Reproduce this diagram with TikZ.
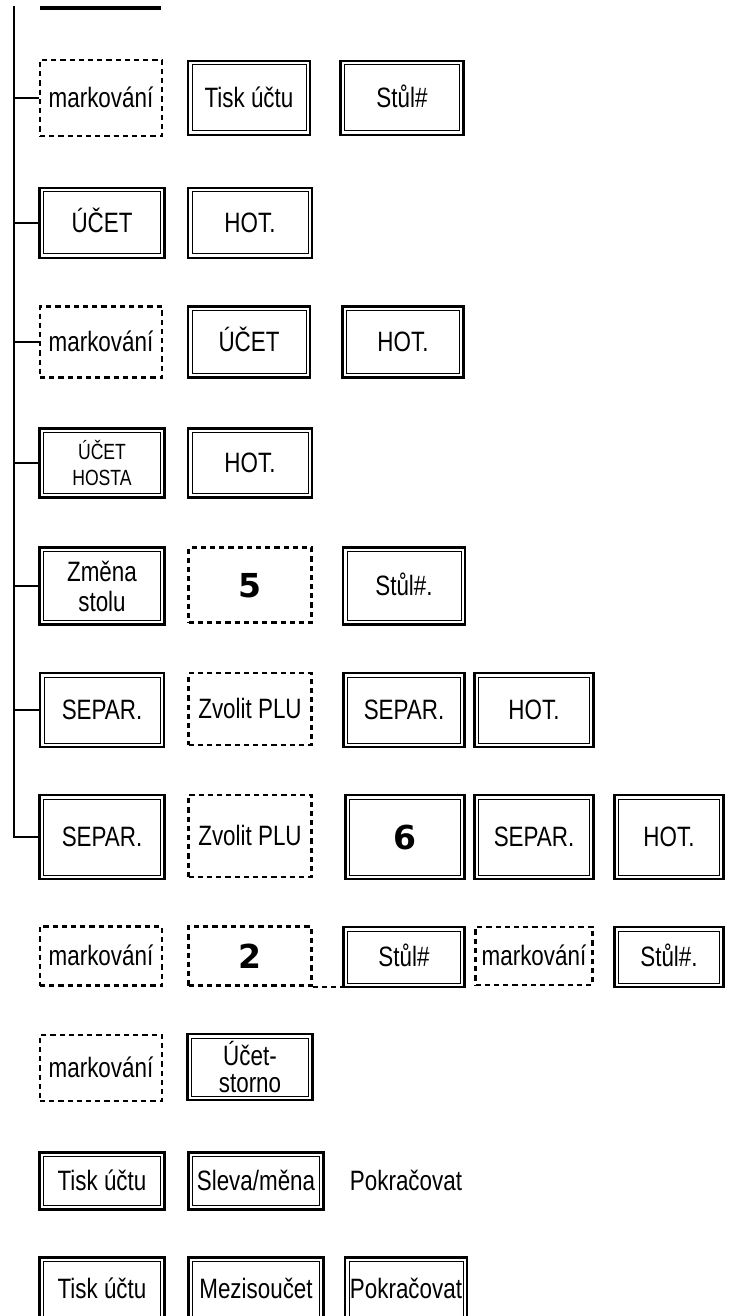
\documentclass[tikz,border=0pt]{standalone}
\usepackage{fontspec}
\setmainfont{Liberation Sans}[FakeStretch=0.8]
\newfontfamily\heavyfont{DejaVu Sans}
\usetikzlibrary{positioning}

\tikzset{
  keybox/.style={draw, line width=1.3pt, inner sep=0pt, align=center,
    text height=10.5pt, text depth=1pt,
    path picture={\draw[line width=0.5pt]
      ([shift={(2pt,2pt)}]path picture bounding box.south west) rectangle
      ([shift={(-2pt,-2pt)}]path picture bounding box.north east);}},
  markline/.style={line width=1.1pt, dash pattern=on 2.6pt off 2pt},
  markbox/.style={draw, markline, inner sep=0pt, align=center,
    text height=10.5pt, text depth=1pt},
  twoline/.style={text height=, text depth=, font=\fontsize{14}{15}\selectfont},
  sz/.style 2 args={minimum width=#1*0.5pt, minimum height=#2*0.5pt},
  bigkey/.style={font=\heavyfont\fontsize{16.5}{16.5}\selectfont\bfseries,
    text height=12pt, text depth=0pt},
  branch/.style={line width=0.75pt},
}

\begin{document}
\begin{tikzpicture}[x=0.5pt, y=-0.5pt, font=\fontsize{14}{14.5}\selectfont]
  \useasboundingbox (0,0) rectangle (730,1316);
  % end of the block above
  \draw[line width=2pt] (40,8) -- (161,8);
  % row 1
  \node[markbox, sz={122}{76}] (mark1) at (101,98) {markování};
  \node[keybox, sz={122}{74}] (tisk1) at (249,98) {Tisk účtu};
  \node[keybox, sz={123}{74}] (stul1) at (402,98) {Stůl\#};
  % row 2
  \node[keybox, sz={125}{70}] (ucet2) at (102,223) {ÚČET};
  \node[keybox, sz={124}{70}] (hot2) at (250,223) {HOT.};
  % row 3
  \node[markbox, sz={122}{71}] (mark3) at (101,342) {markování};
  \node[keybox, sz={122}{71}] (ucet3) at (249,342) {ÚČET};
  \node[keybox, sz={121}{71}] (hot3) at (403,342) {HOT.};
  % row 4
  \node[keybox, twoline, sz={125}{69}, font=\fontsize{11}{13}\selectfont] (host4) at (102,463) {ÚČET\\HOSTA};
  \node[keybox, sz={124}{69}] (hot4) at (250,463) {HOT.};
  % row 5
  \node[keybox, twoline, sz={125}{77}] (zmena5) at (102,586) {Změna\\stolu};
  \node[markbox, sz={123}{75}, bigkey] (five5) at (250,585) {5};
  \node[keybox, sz={122}{77}] (stul5) at (404,586) {Stůl\#.};
  % row 6
  \node[keybox, sz={124}{74}] (sep6) at (102,710) {SEPAR.};
  \node[markbox, sz={123}{72}] (plu6) at (250,709) {Zvolit PLU};
  \node[keybox, sz={121}{74}] (sepb6) at (404,710) {SEPAR.};
  \node[keybox, sz={119}{74}] (hot6) at (534,710) {HOT.};
  % row 7
  \node[keybox, sz={125}{84}] (sep7) at (102,837) {SEPAR.};
  \node[markbox, sz={123}{82}] (plu7) at (250,836) {Zvolit PLU};
  \node[keybox, sz={119}{84}, bigkey] (six7) at (405,837) {6};
  \node[keybox, sz={119}{84}] (sepb7) at (534,837) {SEPAR.};
  \node[keybox, sz={109}{84}] (hot7) at (669,837) {HOT.};
  % row 8
  \node[markbox, sz={122}{59}] (mark8) at (101,956) {markování};
  \node[markbox, sz={123}{59}, bigkey] (two8) at (250,956) {2};
  \node[keybox, sz={121}{60}] (stul8) at (404,957) {Stůl\#};
  \node[markbox, sz={117}{58}] (markb8) at (534,956) {markování};
  \node[keybox, sz={109}{60}] (stulb8) at (669,957) {Stůl\#.};
  \draw[markline] (two8.south east) -- (two8.south east -| stul8.west);
  % row 9
  \node[markbox, sz={122}{66}] (mark9) at (101,1068) {markování};
  \node[keybox, twoline, sz={125}{66}, font=\fontsize{14}{13.5}\selectfont] (storno9) at (250,1067) {Účet-\\storno};
  % row 10
  \node[keybox, sz={125}{57}] (tisk10) at (102,1181) {Tisk účtu};
  \node[keybox, sz={135}{57}] (sleva10) at (256,1181) {Sleva/měna};
  \node[text height=10.5pt, text depth=1pt] (pokr10) at (406,1181) {Pokračovat};
  % row 11
  \node[keybox, sz={125}{63}] (tisk11) at (102,1289) {Tisk účtu};
  \node[keybox, sz={135}{63}] (mezi11) at (256,1289) {Mezisoučet};
  \node[keybox, sz={122}{63}] (pokr11) at (406,1289) {Pokračovat};
  % branch lines on the left
  \coordinate (top) at (14,6);
  \draw[branch] (top) |- (sep7.west);
  \foreach \n in {mark1, ucet2, mark3, host4, zmena5, sep6}
    \draw[branch] (\n.west) -- (\n.west -| top);
\end{tikzpicture}
\end{document}
